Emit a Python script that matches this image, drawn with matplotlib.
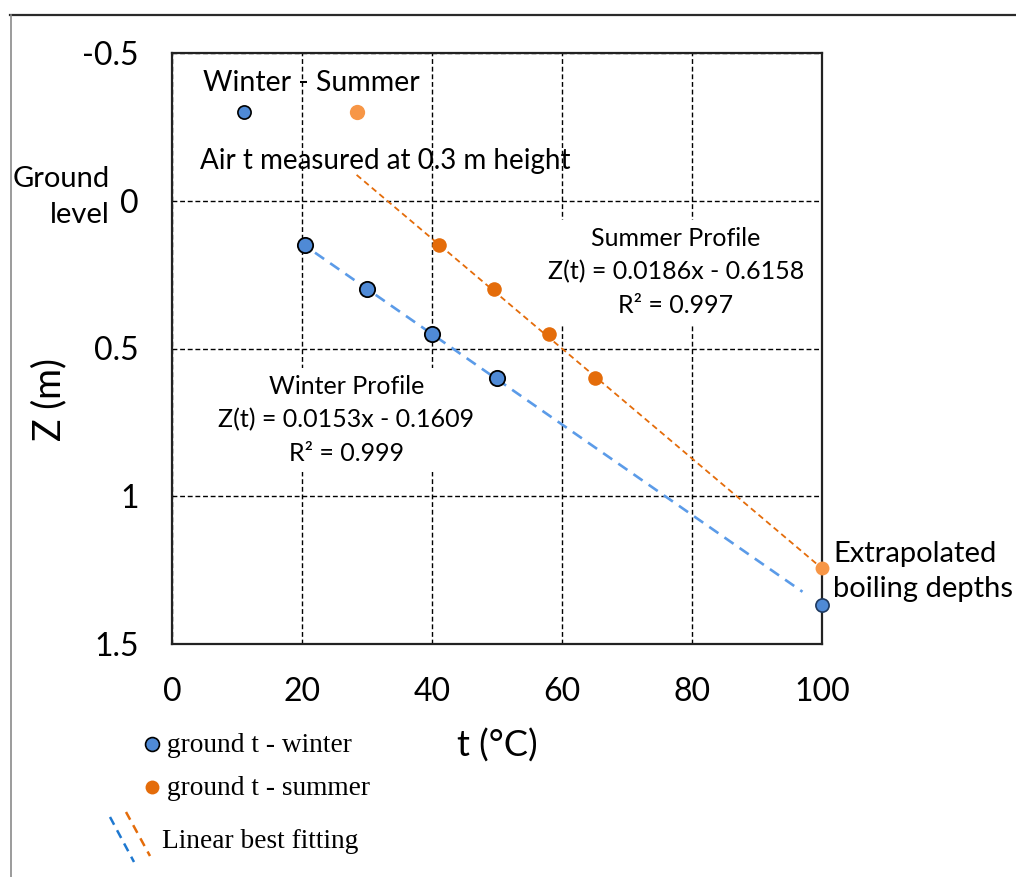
import matplotlib.pyplot as plt
from matplotlib.lines import Line2D
import numpy as np

plt.rcParams['font.family'] = ['Lato', 'DejaVu Sans']

# ground temperature (°C) against depth z (m)
t_winter = [20.5, 30, 40, 50]
z_winter = [0.15, 0.30, 0.45, 0.60]
t_summer = [41, 49.5, 58, 65]
z_summer = [0.15, 0.30, 0.45, 0.60]

# air temperature, measured 0.3 m above ground
t_air_winter = 11
t_air_summer = 28.5
z_air = -0.3

# linear fits z = a*t + b and the t range each dashed line covers
fit_winter = (0.0153, -0.1609)
fit_summer = (0.0186, -0.6158)
span_winter = (22, 97)
span_summer = (28.4, 99.5)
t_boil = 100

blue = '#4F8AD6'
blue_line = '#5B9BE8'
orange = '#E46C0A'
orange_light = '#F79646'

W, H = 1016, 877
fig = plt.figure(figsize=(W / 100, H / 100), dpi=100)
ax = fig.add_axes([172 / W, 1 - 644 / H, 650 / W, 591 / H])

ax.set_xlim(0, 100)
ax.set_ylim(1.5, -0.5)
ax.set_xticks([0, 20, 40, 60, 80, 100])
ax.set_yticks([-0.5, 0, 0.5, 1, 1.5])
ax.set_yticklabels(['-0.5', '0', '0.5', '1', '1.5'])
ax.tick_params(length=0, labelsize=23)
ax.tick_params(axis='x', pad=24)
ax.tick_params(axis='y', pad=24)
ax.set_axisbelow(True)
ax.grid(True, color='black', lw=1.0, ls=(0, (3.5, 2)))
for s in ax.spines.values():
    s.set_linewidth(1.6)
    s.set_color('#222222')

# trend lines
tw = np.array(span_winter)
ax.plot(tw, fit_winter[0] * tw + fit_winter[1], color=blue_line, lw=1.9,
        ls=(0, (4.2, 2.8)), zorder=3)
ts = np.array(span_summer)
ax.plot(ts, fit_summer[0] * ts + fit_summer[1], color=orange, lw=1.3,
        ls=(0, (3.3, 2.2)), zorder=3)

# measured points
ax.plot(t_winter, z_winter, 'o', ms=11, mfc=blue, mec='black', mew=1.3, zorder=4)
ax.plot(t_summer, z_summer, 'o', ms=10.5, mfc=orange, mec=orange, mew=0, zorder=4)
ax.plot([t_air_winter], [z_air], 'o', ms=9.5, mfc=blue, mec='black', mew=1.2, zorder=4)
ax.plot([t_air_summer], [z_air], 'o', ms=11, mfc=orange_light, mew=0, zorder=4)

# extrapolated boiling depths
z_boil_w = fit_winter[0] * t_boil + fit_winter[1]
z_boil_s = fit_summer[0] * t_boil + fit_summer[1]
ax.plot([t_boil], [z_boil_s], 'o', ms=10, mfc=orange_light, mew=0, zorder=5, clip_on=False)
ax.plot([t_boil], [z_boil_w], 'o', ms=9.5, mfc=blue, mec='#1F3A60', mew=1.2, zorder=5, clip_on=False)

# annotations
ax.text(21.4, -0.398, 'Winter - Summer', fontsize=20.5, ha='center', va='center', zorder=2.5)
ax.text(32.8, -0.134, 'Air t measured at 0.3 m height', fontsize=20, ha='center',
        va='center', zorder=2.5)
ax.text(26.8, 0.742, 'Winter Profile\nZ(t) = 0.0153x - 0.1609\nR\u00b2 = 0.999',
        fontsize=18, ha='center', va='center', multialignment='center',
        linespacing=1.56, zorder=2.5,
        bbox=dict(fc='white', ec='none', pad=5))
ax.text(77.5, 0.241, 'Summer Profile\nZ(t) = 0.0186x - 0.6158\nR\u00b2 = 0.997',
        fontsize=18, ha='center', va='center', multialignment='center',
        linespacing=1.56, zorder=2.5,
        bbox=dict(fc='white', ec='none', pad=5))
ax.text(101.7, 1.255, 'Extrapolated\nboiling depths', fontsize=21, ha='left',
        va='center', linespacing=1.46, clip_on=False)

fig.text(110 / W, 1 - 197 / H, 'Ground\nlevel', fontsize=21, ha='right', va='center',
         multialignment='right', linespacing=1.44)
fig.text(497 / W, 1 - 746 / H, 't (°C)', fontsize=26, ha='center', va='center')
fig.text(49 / W, 1 - 400 / H, 'Z (m)', fontsize=27, ha='center', va='center', rotation=90)

# hand-made legend below the axes
serif = 'Liberation Serif'
fig.add_artist(Line2D([152 / W], [1 - 744 / H], marker='o', ms=10, mfc=blue,
                      mec='black', mew=1.2, ls='none'))
fig.add_artist(Line2D([152 / W], [1 - 787 / H], marker='o', ms=10, mfc=orange,
                      mew=0, ls='none'))
fig.text(167 / W, 1 - 752 / H, 'ground t - winter', fontsize=19.7, family=serif,
         va='baseline')
fig.text(167 / W, 1 - 795 / H, 'ground t - summer', fontsize=19.7, family=serif,
         va='baseline')
fig.add_artist(Line2D([110 / W, 134 / W], [1 - 817 / H, 1 - 862 / H], color='#1E78D0',
                      lw=1.8, ls=(0, (3.5, 2.5))))
fig.add_artist(Line2D([126 / W, 150 / W], [1 - 812 / H, 1 - 856 / H], color=orange,
                      lw=1.8, ls=(0, (3.5, 2.5))))
fig.text(162 / W, 1 - 848 / H, 'Linear best fitting', fontsize=19.7, family=serif,
         va='baseline')

# outer frame (top and left edges)
fig.add_artist(Line2D([10 / W, 1], [1 - 15 / H, 1 - 15 / H], color='#2a2a2a', lw=1.6))
fig.add_artist(Line2D([11 / W, 11 / W], [1 - 15 / H, 0], color='#8a8a8a', lw=1.2))

fig.savefig('out.png', dpi=100)
